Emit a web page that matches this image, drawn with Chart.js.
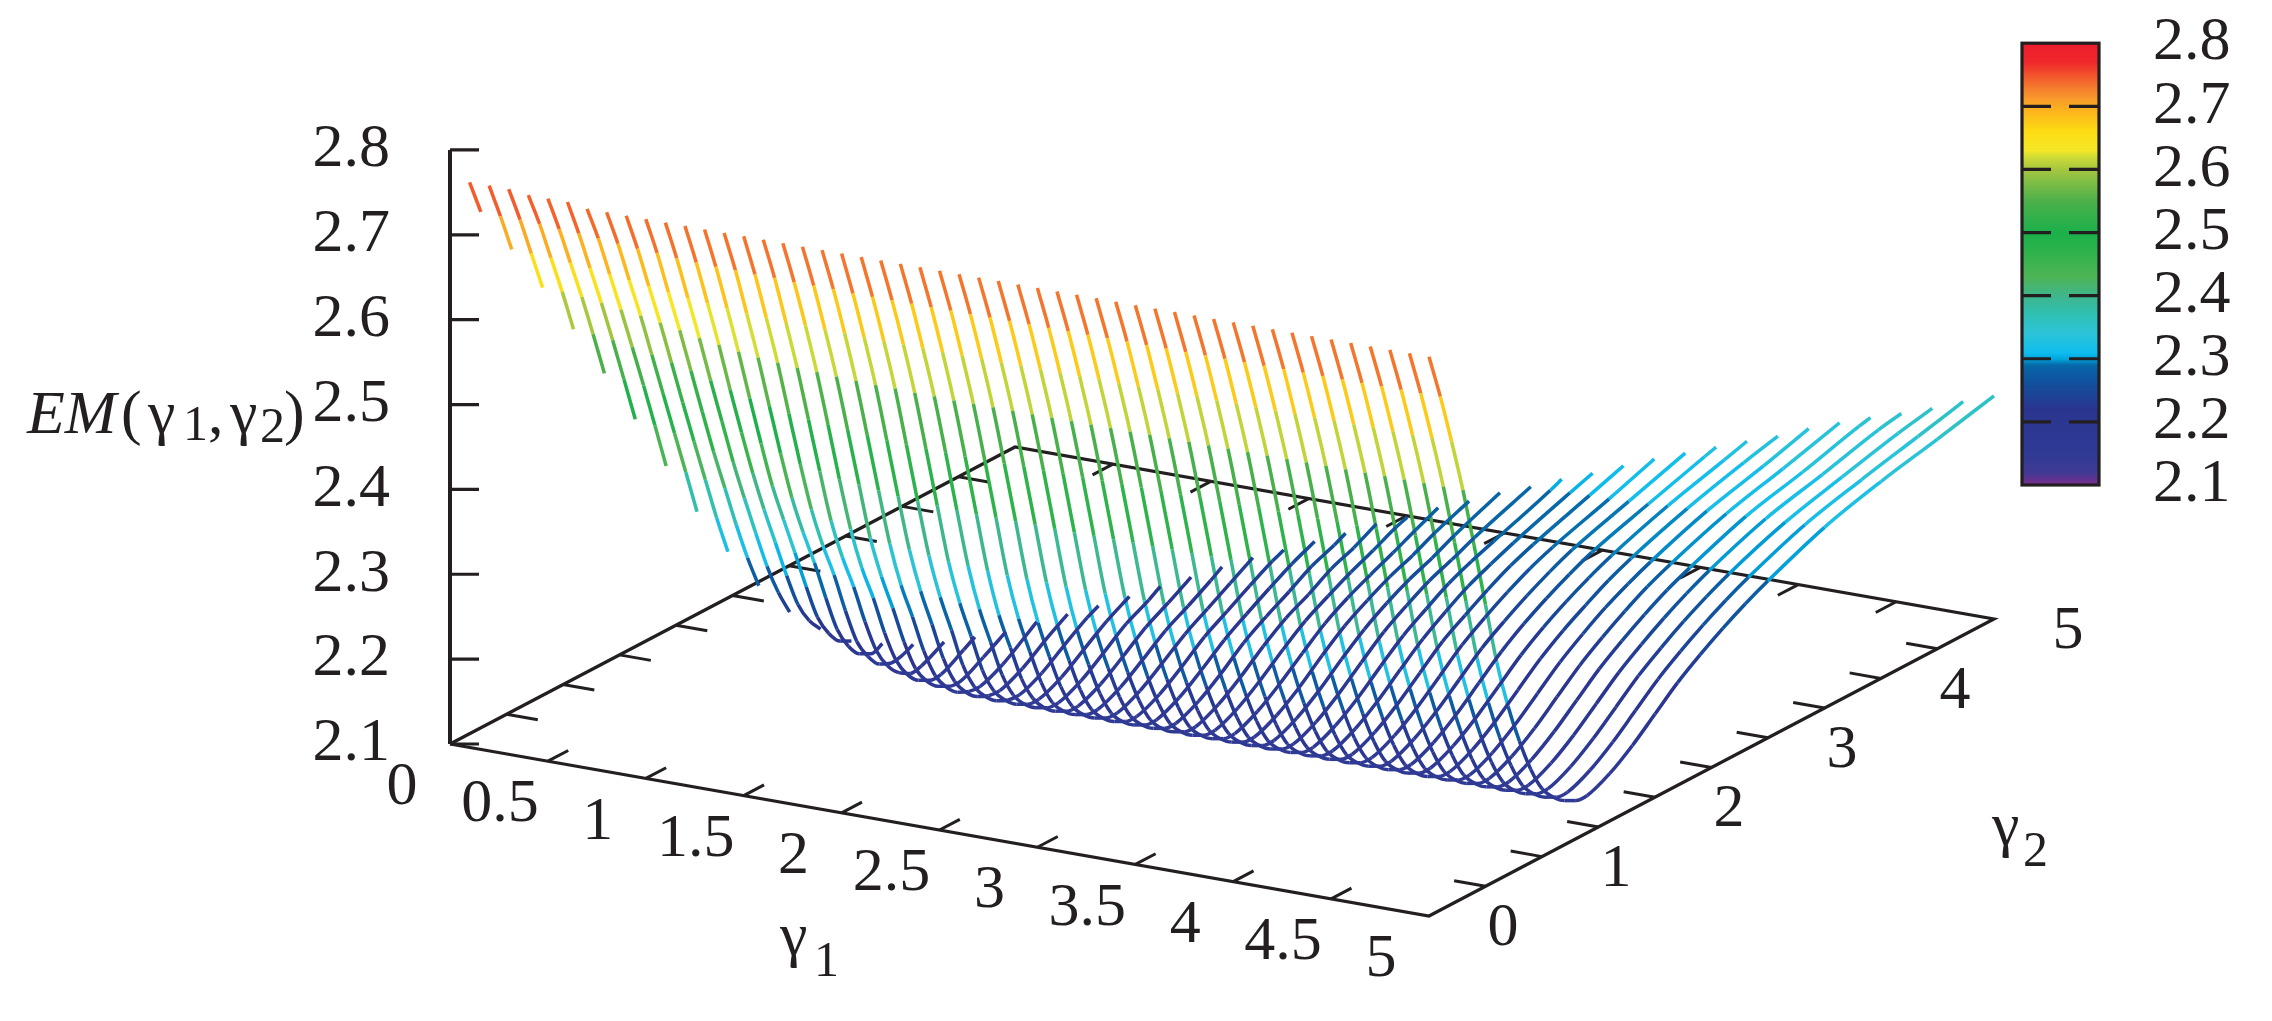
<!DOCTYPE html>
<html>
<head>
<meta charset="utf-8">
<title>EM surface</title>
<script src="https://cdn.jsdelivr.net/npm/chart.js@4"></script>
<style>
  body { margin: 0; background: #fff; }
  canvas { position: absolute; }
  #surface { left: 0; top: 0; }
  #colorbar { left: 1990px; top: 0; }
</style>
</head>
<body>
<canvas id="surface" width="2272" height="1021"></canvas>
<canvas id="colorbar" width="282" height="540"></canvas>
<script>
"use strict";

/* ============================================================
   DATA
============================================================ */
const gamma1Ticks = [0, 0.5, 1, 1.5, 2, 2.5, 3, 3.5, 4, 4.5, 5];
const gamma2Labels = [0, 1, 2, 3, 4, 5];
const gamma2Ticks = [0, 0.5, 1, 1.5, 2, 2.5, 3, 3.5, 4, 4.5, 5];
const emTicks = [2.1, 2.2, 2.3, 2.4, 2.5, 2.6, 2.7, 2.8];

// one curve per gamma1, each runs over gamma2Grid up to gamma2 = gamma1
const gamma1Values = [
  0.1, 0.2, 0.3, 0.4, 0.5, 0.6, 0.7, 0.8, 0.9, 1.0,
  1.1, 1.2, 1.3, 1.4, 1.5, 1.6, 1.7, 1.8, 1.9, 2.0,
  2.1, 2.2, 2.3, 2.4, 2.5, 2.6, 2.7, 2.8, 2.9, 3.0,
  3.1, 3.2, 3.3, 3.4, 3.5, 3.6, 3.7, 3.8, 3.9, 4.0,
  4.1, 4.2, 4.3, 4.4, 4.5, 4.6, 4.7, 4.8, 4.9, 5.0
];
const gamma2Grid = [0, 0.1, 0.2, 0.3, 0.4, 0.5, 0.6, 0.7, 0.8, 0.9, 1, 1.1, 1.2, 1.3, 1.4,
  1.6, 1.8, 2, 2.2, 2.4, 2.6, 2.8, 3, 3.5, 4, 4.5, 5];

// the part of the far curves that no longer changes with gamma1 (gamma2 = 0 .. 1.8)
const farWall = [2.759, 2.705, 2.645, 2.581, 2.508, 2.432, 2.357, 2.298, 2.250, 2.210,
  2.180, 2.163, 2.152, 2.145, 2.144, 2.156, 2.175];

const emRows = [
  [2.766, 2.724],
  [2.766, 2.723, 2.677],
  [2.766, 2.723, 2.676, 2.629],
  [2.763, 2.722, 2.675, 2.628, 2.577],
  [2.763, 2.720, 2.673, 2.626, 2.575, 2.522],
  [2.763, 2.719, 2.671, 2.623, 2.572, 2.519, 2.465],
  [2.759, 2.717, 2.668, 2.619, 2.568, 2.516, 2.462, 2.407],
  [2.759, 2.715, 2.665, 2.616, 2.563, 2.510, 2.457, 2.404, 2.350],
  [2.759, 2.713, 2.662, 2.612, 2.558, 2.504, 2.451, 2.399, 2.347, 2.300],
  [2.759, 2.712, 2.659, 2.607, 2.552, 2.497, 2.443, 2.393, 2.343, 2.297, 2.257],
  [2.759, 2.710, 2.656, 2.602, 2.545, 2.490, 2.435, 2.385, 2.337, 2.291, 2.253, 2.223],
  [2.759, 2.709, 2.654, 2.598, 2.538, 2.481, 2.426, 2.376, 2.330, 2.284, 2.243, 2.217, 2.200],
  [2.759, 2.708, 2.652, 2.594, 2.532, 2.472, 2.415, 2.368, 2.322, 2.275, 2.232, 2.206, 2.190, 2.183],
  [2.759, 2.708, 2.650, 2.591, 2.527, 2.464, 2.405, 2.357, 2.314, 2.266, 2.222, 2.195, 2.179, 2.172, 2.177],
  [2.759, 2.707, 2.649, 2.589, 2.522, 2.456, 2.395, 2.346, 2.304, 2.255, 2.212, 2.187, 2.171, 2.165, 2.167, 2.173],
  [2.759, 2.707, 2.648, 2.587, 2.519, 2.451, 2.386, 2.336, 2.294, 2.246, 2.205, 2.180, 2.165, 2.157, 2.159, 2.173],
  [2.759, 2.706, 2.648, 2.586, 2.517, 2.446, 2.380, 2.327, 2.285, 2.237, 2.198, 2.174, 2.160, 2.153, 2.153, 2.168, 2.176],
  [2.759, 2.706, 2.647, 2.585, 2.515, 2.444, 2.374, 2.321, 2.277, 2.230, 2.192, 2.170, 2.157, 2.150, 2.149, 2.163, 2.179],
  [2.759, 2.706, 2.647, 2.584, 2.513, 2.441, 2.371, 2.315, 2.271, 2.224, 2.188, 2.167, 2.154, 2.148, 2.147, 2.159, 2.178, 2.188],
  [2.759, 2.705, 2.646, 2.583, 2.511, 2.438, 2.368, 2.312, 2.266, 2.219, 2.185, 2.165, 2.153, 2.147, 2.146, 2.158, 2.177, 2.194],
  [2.759, 2.705, 2.646, 2.583, 2.510, 2.436, 2.365, 2.309, 2.263, 2.215, 2.183, 2.164, 2.152, 2.146, 2.145, 2.157, 2.176, 2.194, 2.201],
  [2.759, 2.705, 2.646, 2.582, 2.509, 2.435, 2.362, 2.306, 2.260, 2.213, 2.182, 2.164, 2.152, 2.145, 2.144, 2.156, 2.175, 2.194, 2.209],
  [2.759, 2.705, 2.645, 2.582, 2.509, 2.434, 2.361, 2.303, 2.257, 2.212, 2.181, 2.163, 2.152, 2.145, 2.144, 2.156, 2.175, 2.195, 2.209, 2.218],
  [2.759, 2.705, 2.645, 2.581, 2.508, 2.433, 2.359, 2.300, 2.255, 2.211, 2.181, 2.163, 2.152, 2.145, 2.144, 2.156, 2.175, 2.195, 2.210, 2.226],
  [2.759, 2.705, 2.645, 2.581, 2.508, 2.433, 2.358, 2.300, 2.254, 2.211, 2.180, 2.163, 2.152, 2.145, 2.144, 2.156, 2.175, 2.195, 2.210, 2.226, 2.235],
  [2.759, 2.705, 2.645, 2.581, 2.508, 2.433, 2.358, 2.299, 2.252, 2.210, 2.180, 2.163, 2.152, 2.145, 2.144, 2.156, 2.175, 2.195, 2.211, 2.227, 2.243],
  [2.759, 2.705, 2.645, 2.581, 2.508, 2.433, 2.358, 2.299, 2.252, 2.210, 2.180, 2.163, 2.152, 2.145, 2.144, 2.156, 2.175, 2.196, 2.212, 2.228, 2.243, 2.249],
  [2.759, 2.705, 2.645, 2.581, 2.508, 2.432, 2.357, 2.298, 2.251, 2.210, 2.180, 2.163, 2.152, 2.145, 2.144, 2.156, 2.175, 2.196, 2.213, 2.229, 2.244, 2.256],
  [2.759, 2.705, 2.645, 2.581, 2.508, 2.432, 2.357, 2.298, 2.251, 2.210, 2.180, 2.163, 2.152, 2.145, 2.144, 2.156, 2.175, 2.197, 2.214, 2.229, 2.245, 2.256, 2.263],
  [2.759, 2.705, 2.645, 2.581, 2.508, 2.432, 2.357, 2.298, 2.250, 2.210, 2.180, 2.163, 2.152, 2.145, 2.144, 2.156, 2.175, 2.197, 2.216, 2.230, 2.246, 2.257, 2.271],
  [...farWall, 2.197, 2.217, 2.232, 2.246, 2.258, 2.271, 2.276],
  [...farWall, 2.197, 2.218, 2.234, 2.247, 2.259, 2.272, 2.284],
  [...farWall, 2.198, 2.219, 2.235, 2.249, 2.260, 2.273, 2.289],
  [...farWall, 2.198, 2.219, 2.236, 2.250, 2.261, 2.274, 2.296],
  [...farWall, 2.198, 2.220, 2.237, 2.252, 2.263, 2.275, 2.300],
  [...farWall, 2.198, 2.220, 2.237, 2.253, 2.265, 2.275, 2.300, 2.306],
  [...farWall, 2.198, 2.220, 2.238, 2.254, 2.266, 2.277, 2.301, 2.310],
  [...farWall, 2.198, 2.221, 2.238, 2.254, 2.268, 2.279, 2.302, 2.316],
  [...farWall, 2.198, 2.221, 2.239, 2.255, 2.269, 2.280, 2.302, 2.321],
  [...farWall, 2.198, 2.221, 2.239, 2.255, 2.269, 2.281, 2.303, 2.325],
  [...farWall, 2.198, 2.221, 2.240, 2.256, 2.270, 2.282, 2.304, 2.325, 2.329],
  [...farWall, 2.198, 2.221, 2.240, 2.256, 2.270, 2.282, 2.306, 2.325, 2.333],
  [...farWall, 2.198, 2.221, 2.240, 2.256, 2.271, 2.283, 2.307, 2.326, 2.336],
  [...farWall, 2.198, 2.221, 2.240, 2.257, 2.271, 2.283, 2.308, 2.326, 2.342],
  [...farWall, 2.198, 2.221, 2.240, 2.257, 2.272, 2.284, 2.309, 2.327, 2.346],
  [...farWall, 2.198, 2.221, 2.240, 2.257, 2.272, 2.284, 2.310, 2.327, 2.346, 2.349],
  [...farWall, 2.198, 2.221, 2.240, 2.257, 2.272, 2.285, 2.311, 2.328, 2.346, 2.351],
  [...farWall, 2.198, 2.221, 2.240, 2.257, 2.272, 2.285, 2.311, 2.329, 2.346, 2.354],
  [...farWall, 2.198, 2.221, 2.240, 2.257, 2.272, 2.285, 2.312, 2.330, 2.346, 2.359],
  [...farWall, 2.198, 2.221, 2.240, 2.257, 2.272, 2.285, 2.313, 2.332, 2.347, 2.363]
];

// colour scale, as on the colour box
const paletteLevels = [2.10, 2.12, 2.15, 2.22, 2.26, 2.29, 2.30, 2.31, 2.34, 2.37, 2.40, 2.43, 2.47,
  2.50, 2.55, 2.58, 2.60, 2.62, 2.63, 2.66, 2.69, 2.71, 2.73, 2.77, 2.80];
const paletteColors = ['#7b2d8f', '#3f3a94', '#2e3a95', '#2a3590', '#124f9c', '#0768a8', '#00a8e0', '#10bdee',
  '#2cc3d8', '#2fc0b3', '#3fb68b', '#4eb455', '#2eb34b', '#1bb04b', '#4cb04a', '#7fbd45', '#a5c63e', '#d0dc36',
  '#f5e827', '#fcdc14', '#fdb71c', '#f99d2a', '#f47a2d', '#f0282b', '#ed1c2e'];

/* ============================================================
   VIEW
============================================================ */
const INK = '#231f20';
const SERIF = '"Liberation Serif", "Times New Roman", serif';
const LABEL_SIZE = 62;
const SUB_SIZE = 50;

// x scale runs in canvas px, y scale in EM units with the 3D corner on its own value
const ORIGIN_X = 450;
const X_PER_GAMMA1 = 195.8;
const X_PER_GAMMA2 = 113;
const EM_PER_GAMMA1 = -0.04054;
const EM_PER_GAMMA2 = 0.07;
const FLOOR_EM = 2.1;

function project(g1, g2, em) {
  return {
    x: ORIGIN_X + g1 * X_PER_GAMMA1 + g2 * X_PER_GAMMA2,
    y: em + g1 * EM_PER_GAMMA1 + g2 * EM_PER_GAMMA2
  };
}

function hexToRgb(hex) {
  return [1, 3, 5].map(i => parseInt(hex.slice(i, i + 2), 16));
}

function paletteColor(em) {
  let i = paletteLevels.findIndex(level => level >= em);
  if (i <= 0) return paletteColors[Math.max(i, 0)];
  const t = (em - paletteLevels[i - 1]) / (paletteLevels[i] - paletteLevels[i - 1]);
  const a = hexToRgb(paletteColors[i - 1]);
  const b = hexToRgb(paletteColors[i]);
  const rgb = a.map((v, k) => Math.round(v + (b[k] - v) * t));
  return `rgb(${rgb.join(',')})`;
}

// tick labels must not push the plot area in
function dropLabelPadding(scale) {
  scale.paddingTop = 0;
  scale.paddingBottom = 0;
}

/* ============================================================
   DATASETS
============================================================ */
const BREAK = { x: NaN, y: NaN };

function curveDataset(g1, row) {
  const gammas = gamma2Grid.filter(g => g < g1 - 1e-9).concat(g1);
  if (gammas.length !== row.length) console.warn('row length', g1, gammas.length, row.length);
  return {
    data: row.map((em, i) => project(g1, gammas[i], em)),
    showLine: true,
    pointRadius: 0,
    borderWidth: 3.5,
    borderColor: paletteColor(row[0]),
    cubicInterpolationMode: 'monotone',
    order: 1,
    segment: {
      borderColor: ctx => paletteColor((row[ctx.p0DataIndex] + row[ctx.p1DataIndex]) / 2)
    }
  };
}

function inkDataset(points, width) {
  return { data: points, showLine: true, pointRadius: 0, borderWidth: width, borderColor: INK, order: 5 };
}

const frame = [
  project(0, 0, FLOOR_EM), project(5, 0, FLOOR_EM), project(5, 5, FLOOR_EM), project(0, 5, FLOOR_EM), project(0, 0, FLOOR_EM)
];
const emAxisLine = [project(0, 0, FLOOR_EM), project(0, 0, emTicks[emTicks.length - 1])];

const floorTicks = [];
gamma1Ticks.slice(1, -1).forEach(g => {
  floorTicks.push(project(g, 0, FLOOR_EM), project(g, 0.18, FLOOR_EM), BREAK);
  floorTicks.push(project(g, 5, FLOOR_EM), project(g, 4.82, FLOOR_EM), BREAK);
});
gamma2Ticks.slice(1, -1).forEach(g => {
  floorTicks.push(project(0, g, FLOOR_EM), project(0.16, g, FLOOR_EM), BREAK);
  floorTicks.push(project(5, g, FLOOR_EM), project(4.84, g, FLOOR_EM), BREAK);
});

const emAxisTicks = [];
emTicks.forEach(v => {
  const p = project(0, 0, v);
  emAxisTicks.push(p, { x: p.x + 29, y: p.y }, BREAK);
});

/* ============================================================
   TEXT ON THE 3D AXES
============================================================ */
function putText(ctx, text, x, y, size, opts = {}) {
  ctx.font = `${opts.italic ? 'italic ' : ''}${size}px ${SERIF}`;
  ctx.textAlign = opts.align || 'left';
  ctx.textBaseline = opts.baseline || 'alphabetic';
  ctx.fillStyle = INK;
  ctx.fillText(text, x, y);
}

const axisTextPlugin = {
  id: 'axisText',
  afterDraw(chart) {
    const { ctx, scales: { x, y } } = chart;
    ctx.save();
    gamma1Ticks.forEach(g => {
      const p = project(g, 0, FLOOR_EM);
      putText(ctx, String(g), x.getPixelForValue(p.x) - 48, y.getPixelForValue(p.y) + 44, LABEL_SIZE,
        { align: 'center', baseline: 'middle' });
    });
    gamma2Labels.forEach(g => {
      const p = project(5, g, FLOOR_EM);
      putText(ctx, String(g), x.getPixelForValue(p.x) + 74, y.getPixelForValue(p.y) + 13, LABEL_SIZE,
        { align: 'center', baseline: 'middle' });
    });

    // axis titles
    putText(ctx, 'γ', 780, 955, LABEL_SIZE);
    putText(ctx, '1', 814, 976, SUB_SIZE);
    putText(ctx, 'γ', 1992, 845, LABEL_SIZE);
    putText(ctx, '2', 2023, 866, SUB_SIZE);

    putText(ctx, 'EM', 27, 433, LABEL_SIZE, { italic: true });
    putText(ctx, '(', 121, 433, LABEL_SIZE);
    putText(ctx, 'γ', 148, 433, LABEL_SIZE);
    putText(ctx, '1', 183, 440, SUB_SIZE);
    putText(ctx, ',', 208, 433, LABEL_SIZE);
    putText(ctx, 'γ', 230, 433, LABEL_SIZE);
    putText(ctx, '2', 260, 442, SUB_SIZE);
    putText(ctx, ')', 284, 433, LABEL_SIZE);
    ctx.restore();
  }
};

/* ============================================================
   SURFACE CHART
============================================================ */
new Chart(document.getElementById('surface'), {
  type: 'scatter',
  plugins: [axisTextPlugin],
  data: {
    datasets: [
      ...gamma1Values.map((g1, i) => curveDataset(g1, emRows[i])),
      inkDataset(frame, 3.2),
      inkDataset(floorTicks, 3),
      inkDataset(emAxisLine, 4),
      inkDataset(emAxisTicks, 3.2)
    ]
  },
  options: {
    responsive: false,
    animation: false,
    layout: { padding: 0, autoPadding: false },
    plugins: { legend: { display: false }, tooltip: { enabled: false } },
    scales: {
      x: { type: 'linear', min: 0, max: 2272, display: false },
      y: {
        type: 'linear',
        min: 1.77358,
        max: 2.97672,
        position: { x: 390 },
        grid: { display: false },
        border: { display: false },
        afterFit: dropLabelPadding,
        afterBuildTicks: axis => { axis.ticks = emTicks.map(value => ({ value })); },
        ticks: {
          autoSkip: false,
          color: INK,
          font: { family: SERIF, size: LABEL_SIZE },
          callback: v => Number(v).toFixed(1)
        }
      }
    }
  }
});

/* ============================================================
   COLOUR BOX
============================================================ */
const colorBoxPlugin = {
  id: 'colorBox',
  afterDatasetsDraw(chart) {
    const { ctx, chartArea: a, scales: { y } } = chart;
    ctx.save();
    ctx.strokeStyle = INK;
    ctx.lineWidth = 3.2;
    ctx.strokeRect(a.left, a.top, a.right - a.left, a.bottom - a.top);
    emTicks.slice(1, -1).forEach(v => {
      const py = y.getPixelForValue(v);
      ctx.beginPath();
      ctx.moveTo(a.left, py);
      ctx.lineTo(a.left + 29, py);
      ctx.moveTo(a.right - 30, py);
      ctx.lineTo(a.right, py);
      ctx.stroke();
    });
    ctx.restore();
  }
};

new Chart(document.getElementById('colorbar'), {
  type: 'bar',
  plugins: [colorBoxPlugin],
  data: {
    labels: ['EM'],
    datasets: [{
      data: [[emTicks[0], emTicks[emTicks.length - 1]]],
      barPercentage: 1,
      categoryPercentage: 1,
      backgroundColor: ctx => {
        const { chart } = ctx;
        if (!chart.chartArea) return paletteColors[0];
        const y = chart.scales.y;
        const bottom = y.getPixelForValue(emTicks[0]);
        const top = y.getPixelForValue(emTicks[emTicks.length - 1]);
        const gradient = chart.ctx.createLinearGradient(0, bottom, 0, top);
        paletteLevels.forEach((level, i) => {
          gradient.addColorStop((level - emTicks[0]) / (emTicks[emTicks.length - 1] - emTicks[0]), paletteColors[i]);
        });
        return gradient;
      }
    }]
  },
  options: {
    responsive: false,
    animation: false,
    layout: { padding: { left: 32, top: 43.2, bottom: 55, right: 0 }, autoPadding: false },
    plugins: { legend: { display: false }, tooltip: { enabled: false } },
    scales: {
      x: { display: false },
      y: {
        position: 'right',
        min: emTicks[0],
        max: emTicks[emTicks.length - 1],
        grid: { display: false },
        border: { display: false },
        afterFit: scale => { scale.width = 173; dropLabelPadding(scale); },
        afterBuildTicks: axis => { axis.ticks = emTicks.map(value => ({ value })); },
        ticks: {
          autoSkip: false,
          padding: 46,
          color: INK,
          font: { family: SERIF, size: LABEL_SIZE },
          callback: v => Number(v).toFixed(1)
        }
      }
    }
  }
});
</script>
</body>
</html>
